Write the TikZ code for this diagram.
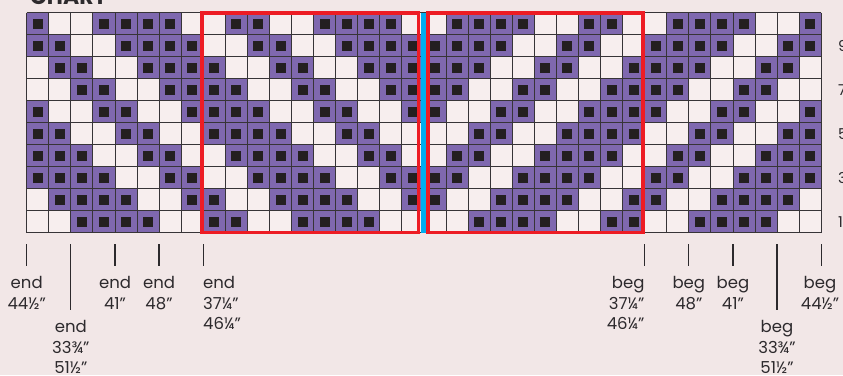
\documentclass[tikz,border=0pt]{standalone}
\usepackage{fontspec}
\setmainfont{Poppins}
\usetikzlibrary{positioning}
\definecolor{chartbg}{RGB}{242,231,231}
\definecolor{blankcell}{RGB}{247,238,238}
\definecolor{lilac}{RGB}{127,104,175}
\definecolor{dot}{RGB}{35,31,32}
\definecolor{gridline}{RGB}{55,52,55}
\definecolor{redline}{RGB}{237,28,36}
\definecolor{cyanline}{RGB}{0,174,239}
\definecolor{ink}{RGB}{45,42,45}

\begin{document}
\begin{tikzpicture}[x=1pt,y=-1pt,
  lbl/.style={font=\fontsize{16.5}{20.5}\selectfont,text=ink,inner sep=0pt,
              align=center,anchor=north},
  rownum/.style={font=\fontsize{15}{18}\selectfont,text=ink,inner sep=0pt,anchor=west},
  tickln/.style={draw=ink,line width=1.3pt},
  repbox/.style={draw=redline,line width=3.5pt},
  centre/.style={draw=cyanline,line width=4.5pt}
]
\useasboundingbox[fill=chartbg] (0,0) rectangle (843,375);

% heading, cut off by the page edge
\node[anchor=base west,inner sep=0pt,font=\fontsize{22}{26}\selectfont\bfseries,text=ink]
  (title) at (30,4) {CHART};

% chart cells: one 10-stitch repeat, mirrored left of the centre line
\begin{scope}[shift={(26.7,12.7)},x=22.07pt,y=-22pt]
\foreach \row/\pat in {0/{0,1,1,1,1,0,0,1,1,0},1/{1,1,1,1,0,0,1,1,0,0},
                       2/{1,1,1,0,0,1,1,0,0,1},3/{1,1,0,0,1,1,0,0,1,1},
                       4/{1,0,0,1,1,0,0,1,1,1},5/{0,0,1,1,0,0,1,1,1,1},
                       6/{0,1,1,0,0,1,1,1,1,0},7/{1,1,0,0,1,1,1,1,0,0},
                       8/{1,0,0,1,1,1,1,0,0,1},9/{0,0,1,1,1,1,0,0,1,1}}{
  \foreach \col in {0,...,35}{
    \pgfmathtruncatemacro\idx{\col>17 ? mod(\col-18,10) : mod(17-\col,10)}
    \pgfmathtruncatemacro\isp{{\pat}[\idx]}
    \ifnum\isp=1
      \fill[lilac] (\col,\row) rectangle ++(1,1);
      \fill[dot] (\col+0.5,\row+0.5) ++(-5pt,-5pt) rectangle ++(10pt,10pt);
    \else
      \fill[blankcell] (\col,\row) rectangle ++(1,1);
    \fi
  }
}
\foreach \col in {0,...,36} \draw[gridline,line width=0.9pt] (\col,0) -- (\col,10);
\foreach \row in {0,...,10} \draw[gridline,line width=0.9pt] (0,\row) -- (36,\row);
\end{scope}

% repeat boxes and centre line
\draw[centre] (423.5,12.7) -- (423.5,232.7);
\draw[repbox] (202,13) rectangle (418.5,232.5);
\draw[repbox] (428,13) rectangle (643,232.5);

% size markers
\foreach \k in {0,4,6,8,28,30,32,36} \draw[tickln] ({26.7+22.07*\k},244) -- ++(0,22);
\foreach \k in {2,34} \draw[tickln] ({26.7+22.07*\k},244) -- ++(0,66);

\node[lbl] (end44) at (26.7,276.5) {end\\44½"};
\node[lbl] (end33) at (70.8,320.5) {end\\33¾"\\51½"};
\node[lbl] (end41) at (115,276.5) {end\\41"};
\node[lbl] (end48) at (159,276.5) {end\\48"};
\node[lbl,align=left,anchor=north west] (end37) at (203,276.5) {end\\37¼"\\46¼"};
\node[lbl,align=right,anchor=north east] (beg37) at (644.7,276.5) {beg\\37¼"\\46¼"};
\node[lbl] (beg48) at (688.8,276.5) {beg\\48"};
\node[lbl] (beg41) at (732.9,276.5) {beg\\41"};
\node[lbl] (beg33) at (777,320.5) {beg\\33¾"\\51½"};
\node[lbl] (beg44) at (820,276.5) {beg\\44½"};

% row numbers
\foreach \n/\row in {9/1,7/3,5/5,3/7,1/9}
  \node[rownum] (row\n) at (838,{12.7+22*(\row+0.5)}) {\n};
\end{tikzpicture}
\end{document}
